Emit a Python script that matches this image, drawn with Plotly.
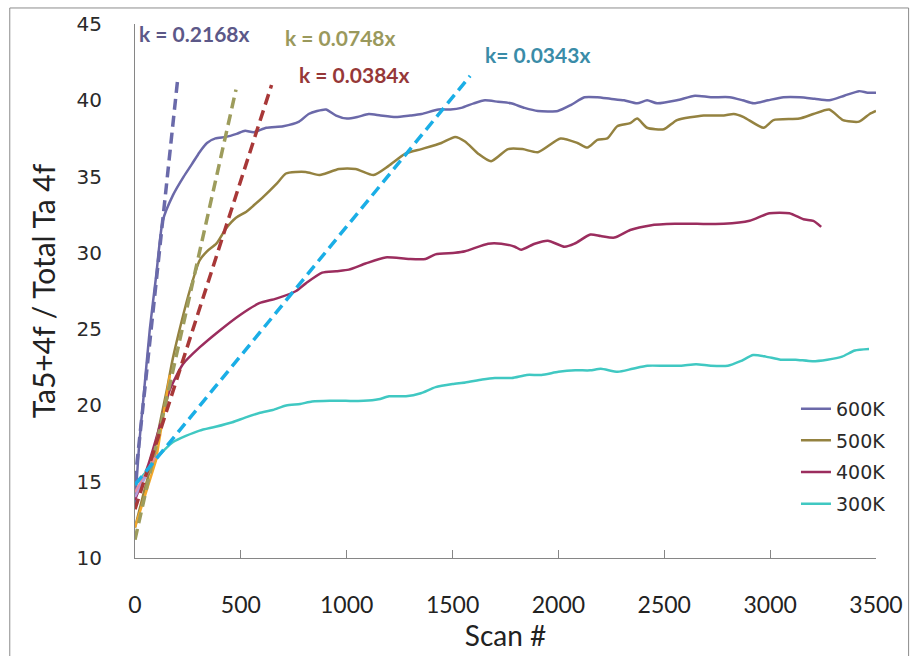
import plotly.graph_objects as go

# Ta5+ 4f fraction vs. scan number at four substrate temperatures
x_600 = [0, 20, 40, 70, 100, 131, 180, 230, 268, 305, 340, 380, 430, 480, 520, 560, 620, 700, 775, 820,
         860, 902, 950, 1001, 1050, 1104, 1160, 1231, 1300, 1353, 1433, 1490, 1541, 1600, 1653, 1715, 1776,
         1840, 1903, 1997, 2060, 2123, 2184, 2245, 2310, 2372, 2419, 2466, 2560, 2645, 2720, 2809, 2870,
         2922, 2990, 3063, 3140, 3210, 3279, 3350, 3420, 3460, 3500]
y_600 = [13.5, 17.5, 20.5, 25.0, 28.5, 32.1, 33.8, 35.0, 35.8, 36.6, 37.2, 37.5, 37.6, 37.8, 38.0, 37.9, 38.2,
         38.3, 38.6, 39.1, 39.3, 39.4, 39.0, 38.8, 38.9, 39.1, 39.0, 38.9, 39.0, 39.1, 39.4, 39.4, 39.5, 39.8,
         40.0, 39.9, 39.8, 39.5, 39.3, 39.3, 39.7, 40.2, 40.2, 40.1, 40.0, 39.8, 40.0, 39.8, 40.0, 40.3, 40.2,
         40.2, 40.0, 39.8, 40.0, 40.2, 40.2, 40.1, 40.0, 40.3, 40.6, 40.5, 40.5]

x_500 = [0, 40, 80, 120, 150, 179, 220, 258, 305, 340, 384, 430, 477, 526, 560, 601, 667, 713, 760, 807, 869,
         900, 963, 1042, 1127, 1198, 1277, 1353, 1447, 1512, 1559, 1621, 1682, 1762, 1830, 1903, 2010, 2090,
         2137, 2184, 2231, 2278, 2339, 2372, 2419, 2498, 2560, 2687, 2781, 2828, 2875, 2969, 3016, 3138,
         3204, 3279, 3344, 3420, 3470, 3500]
y_500 = [12.0, 14.2, 16.3, 19.0, 21.0, 23.1, 25.5, 27.5, 29.5, 30.1, 30.6, 31.6, 32.3, 32.7, 33.1, 33.6, 34.5,
         35.2, 35.3, 35.3, 35.1, 35.2, 35.5, 35.5, 35.1, 35.7, 36.5, 36.8, 37.2, 37.6, 37.3, 36.5, 36.0, 36.8,
         36.8, 36.6, 37.5, 37.2, 36.9, 37.4, 37.5, 38.3, 38.5, 38.8, 38.2, 38.1, 38.7, 39.0, 39.0, 39.1, 38.9,
         38.2, 38.7, 38.8, 39.1, 39.4, 38.7, 38.6, 39.1, 39.3]

x_400 = [0, 60, 120, 164, 226, 305, 399, 493, 587, 667, 761, 807, 884, 950, 1010, 1089, 1183, 1292, 1372,
         1419, 1512, 1559, 1668, 1730, 1794, 1824, 1888, 1950, 2029, 2076, 2151, 2200, 2264, 2339, 2433,
         2550, 2654, 2781, 2903, 2997, 3091, 3157, 3204, 3241]
y_400 = [13.8, 16.0, 18.8, 21.0, 22.7, 23.8, 24.9, 25.9, 26.7, 27.0, 27.5, 28.0, 28.7, 28.8, 28.9, 29.3, 29.7,
         29.6, 29.6, 29.9, 30.0, 30.1, 30.6, 30.6, 30.4, 30.2, 30.6, 30.8, 30.4, 30.6, 31.2, 31.1, 31.0, 31.5,
         31.8, 31.9, 31.9, 31.9, 32.1, 32.6, 32.6, 32.2, 32.1, 31.7]

x_300 = [0, 50, 100, 140, 180, 240, 305, 380, 460, 520, 587, 650, 714, 780, 836, 920, 996, 1080, 1150, 1200,
         1280, 1350, 1420, 1500, 1560, 1640, 1700, 1780, 1850, 1920, 2000, 2080, 2150, 2200, 2280, 2350,
         2420, 2500, 2580, 2650, 2720, 2800, 2860, 2920, 2980, 3050, 3120, 3200, 3270, 3340, 3400, 3467]
y_300 = [14.8, 15.6, 16.5, 17.1, 17.6, 18.0, 18.35, 18.6, 18.9, 19.2, 19.5, 19.7, 20.0, 20.1, 20.25, 20.3,
         20.3, 20.3, 20.4, 20.6, 20.6, 20.8, 21.2, 21.4, 21.5, 21.7, 21.8, 21.8, 22.0, 22.0, 22.2, 22.3, 22.3,
         22.4, 22.2, 22.4, 22.6, 22.6, 22.6, 22.7, 22.6, 22.6, 22.9, 23.3, 23.2, 23.0, 23.0, 22.9, 23.0, 23.2,
         23.6, 23.7]

# Early-scan points used for the initial-rate fits
early_500_x, early_500_y = [0, 99, 165], [12.0, 16.4, 22.0]
early_300_x, early_300_y = [0, 103], [14.3, 16.8]
early_600_x, early_600_y = [0, 60], [14.0, 15.6]

# Initial-rate fit lines (end points)
fit_600_x, fit_600_y = [0, 201], [15.0, 41.3]
fit_500_x, fit_500_y = [0, 477], [11.2, 40.7]
fit_400_x, fit_400_y = [0, 645], [13.2, 41.0]
fit_300_x, fit_300_y = [0, 1583], [14.8, 41.6]

slope_labels = ["k = 0.2168x", "k = 0.0748x", "k = 0.0384x", "k= 0.0343x"]

c600, c500, c400, c300 = "#6b69a9", "#948240", "#9b2d5e", "#40c8c2"
fit_colors = ["#6a6aaa", "#9d9c5c", "#a83838", "#1aaee6"]
label_colors = ["#5c5888", "#9a995c", "#963838", "#3a8ca8"]

fig = go.Figure()

for xs, ys, nm, col in [(x_600, y_600, "600K", c600), (x_500, y_500, "500K", c500),
                        (x_400, y_400, "400K", c400), (x_300, y_300, "300K", c300)]:
    fig.add_trace(go.Scatter(x=xs, y=ys, mode="lines", name=nm, legendgroup=nm,
                             line=dict(color=col, width=2.5, shape="spline", smoothing=0.6)))

for ex, ey, col in [(early_500_x, early_500_y, "#f2a72a"),
                    (early_300_x, early_300_y, "#e98c9c"),
                    (early_600_x, early_600_y, "#b79ad8")]:
    fig.add_trace(go.Scatter(x=ex, y=ey, mode="lines", showlegend=False,
                             line=dict(color=col, width=2.5)))

for (fx, fy), col in zip([(fit_600_x, fit_600_y), (fit_500_x, fit_500_y),
                          (fit_400_x, fit_400_y), (fit_300_x, fit_300_y)], fit_colors):
    fig.add_trace(go.Scatter(x=fx, y=fy, mode="lines", showlegend=False,
                             line=dict(color=col, width=3.5, dash="11px,6px")))

# Slope labels
label_pos = [(10, 44.4), (700, 44.1), (766, 41.67), (1644, 42.97)]
for (lx, ly), txt, col in zip(label_pos, slope_labels, label_colors):
    fig.add_annotation(x=lx, y=ly, text="<b>" + txt + "</b>", showarrow=False,
                       xanchor="left", yanchor="middle",
                       font=dict(family="Lato", size=21, color=col))

# Chart-area frame
fig.add_shape(type="rect", xref="paper", yref="paper",
              x0=-0.169, x1=1.044, y0=-0.19, y1=1.030,
              line=dict(color="#8c8c8c", width=1), fillcolor="rgba(0,0,0,0)", layer="below")

fig.update_layout(
    width=915, height=656,
    margin=dict(l=135, r=35, t=22, b=98),
    plot_bgcolor="white", paper_bgcolor="white",
    showlegend=True,
    legend=dict(x=0.892, y=0.315, xanchor="left", yanchor="top",
                font=dict(family="DejaVu Sans", size=19, color="#2a2a2a"),
                bgcolor="rgba(0,0,0,0)", tracegroupgap=4, itemwidth=30),
    xaxis=dict(range=[0, 3500], tickvals=[0, 500, 1000, 1500, 2000, 2500, 3000, 3500],
               showgrid=False, zeroline=False, showline=True, linecolor="#868686", linewidth=1,
               ticks="inside", ticklen=8, tickcolor="#868686",
               tickfont=dict(family="Lato", size=23, color="#222222"), ticklabelstandoff=26,
               title=dict(text="Scan #", font=dict(family="Lato", size=28, color="#222222"), standoff=0)),
    yaxis=dict(range=[10, 45], tickvals=[10, 15, 20, 25, 30, 35, 40, 45],
               showgrid=False, zeroline=False, showline=True, linecolor="#868686", linewidth=1,
               ticks="", tickfont=dict(family="DejaVu Sans", size=20, color="#2a2a2a"),
               ticklabelstandoff=28,
               title=dict(text="Ta5+4f / Total Ta 4f", font=dict(family="Lato", size=30, color="#222222"),
                          standoff=12)),
)

fig.write_html("out.html")
